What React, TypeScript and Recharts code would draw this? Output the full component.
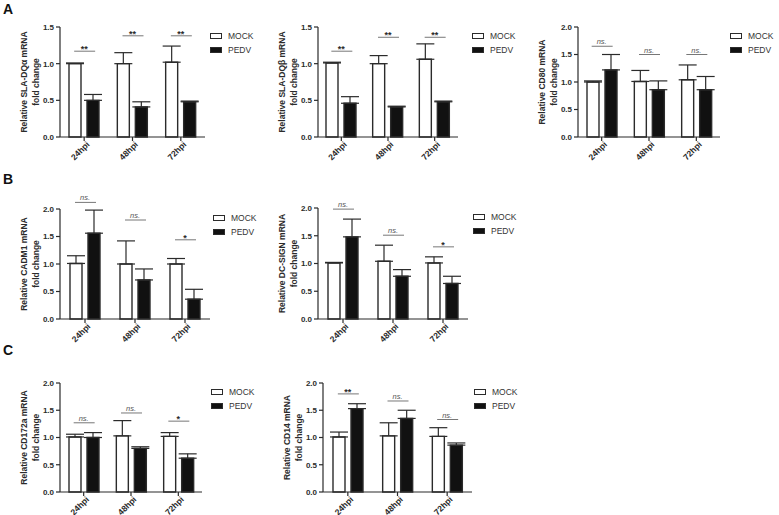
import React from 'react'
import { ComposedChart, Bar, ErrorBar, XAxis, YAxis, Legend, ReferenceDot } from 'recharts'

const times = ['24hpi', '48hpi', '72hpi']
const groups = ['MOCK', 'PEDV']

// A – SLA-DQα
const dqaMock = [1.0, 1.0, 1.02]
const dqaMockSem = [0.01, 0.15, 0.22]
const dqaPedv = [0.5, 0.41, 0.48]
const dqaPedvSem = [0.08, 0.07, 0.01]
const dqaSigAt = [1.17, 1.38, 1.38]
const dqaSig = ['**', '**', '**']

// A – SLA-DQβ
const dqbMock = [1.01, 1.0, 1.06]
const dqbMockSem = [0.01, 0.11, 0.21]
const dqbPedv = [0.46, 0.41, 0.48]
const dqbPedvSem = [0.09, 0.01, 0.01]
const dqbSigAt = [1.17, 1.36, 1.36]
const dqbSig = ['**', '**', '**']

// A – CD80
const cd80Mock = [1.0, 1.01, 1.04]
const cd80MockSem = [0.02, 0.2, 0.27]
const cd80Pedv = [1.22, 0.86, 0.86]
const cd80PedvSem = [0.28, 0.16, 0.24]
const cd80SigAt = [1.65, 1.5, 1.5]
const cd80Sig = ['ns.', 'ns.', 'ns.']

// B – CADM1
const cadm1Mock = [1.01, 1.0, 1.0]
const cadm1MockSem = [0.14, 0.42, 0.1]
const cadm1Pedv = [1.56, 0.71, 0.36]
const cadm1PedvSem = [0.42, 0.2, 0.18]
const cadm1SigAt = [2.12, 1.8, 1.44]
const cadm1Sig = ['ns.', 'ns.', '*']

// B – DC-SIGN
const dcsignMock = [1.01, 1.04, 1.01]
const dcsignMockSem = [0.01, 0.29, 0.11]
const dcsignPedv = [1.48, 0.77, 0.64]
const dcsignPedvSem = [0.32, 0.12, 0.13]
const dcsignSigAt = [1.98, 1.51, 1.3]
const dcsignSig = ['ns.', 'ns.', '*']

// C – CD172a
const cd172aMock = [1.01, 1.03, 1.02]
const cd172aMockSem = [0.05, 0.28, 0.07]
const cd172aPedv = [1.0, 0.8, 0.62]
const cd172aPedvSem = [0.09, 0.03, 0.08]
const cd172aSigAt = [1.27, 1.45, 1.3]
const cd172aSig = ['ns.', 'ns.', '*']

// C – CD14
const cd14Mock = [1.01, 1.03, 1.02]
const cd14MockSem = [0.09, 0.24, 0.16]
const cd14Pedv = [1.53, 1.35, 0.86]
const cd14PedvSem = [0.09, 0.15, 0.04]
const cd14SigAt = [1.8, 1.67, 1.33]
const cd14Sig = ['**', 'ns.', 'ns.']

const ticks15 = [0, 0.5, 1, 1.5]
const ticks20 = [0, 0.5, 1, 1.5, 2]

const INK = '#2b2b2b'
const FONT = '"Liberation Sans", Arial, sans-serif'

const panels = [
  { gene: 'SLA-DQα', mock: dqaMock, mockSem: dqaMockSem, pedv: dqaPedv, pedvSem: dqaPedvSem, sigAt: dqaSigAt, sig: dqaSig, ticks: ticks15, left: 60, right: 205, top: 27, bottom: 137, legX: 210, legY: 29 },
  { gene: 'SLA-DQβ', mock: dqbMock, mockSem: dqbMockSem, pedv: dqbPedv, pedvSem: dqbPedvSem, sigAt: dqbSigAt, sig: dqbSig, ticks: ticks15, left: 318, right: 458, top: 27, bottom: 137, legX: 472, legY: 29 },
  { gene: 'CD80', mock: cd80Mock, mockSem: cd80MockSem, pedv: cd80Pedv, pedvSem: cd80PedvSem, sigAt: cd80SigAt, sig: cd80Sig, ticks: ticks20, left: 578, right: 720, top: 27, bottom: 137, legX: 730, legY: 29 },
  { gene: 'CADM1', mock: cadm1Mock, mockSem: cadm1MockSem, pedv: cadm1Pedv, pedvSem: cadm1PedvSem, sigAt: cadm1SigAt, sig: cadm1Sig, ticks: ticks20, left: 60, right: 210, top: 209, bottom: 319, legX: 213, legY: 211 },
  { gene: 'DC-SIGN', mock: dcsignMock, mockSem: dcsignMockSem, pedv: dcsignPedv, pedvSem: dcsignPedvSem, sigAt: dcsignSigAt, sig: dcsignSig, ticks: ticks20, left: 318, right: 468, top: 208, bottom: 319, legX: 473, legY: 210 },
  { gene: 'CD172a', mock: cd172aMock, mockSem: cd172aMockSem, pedv: cd172aPedv, pedvSem: cd172aPedvSem, sigAt: cd172aSigAt, sig: cd172aSig, ticks: ticks20, left: 60, right: 202, top: 383, bottom: 492, legX: 211, legY: 385 },
  { gene: 'CD14', mock: cd14Mock, mockSem: cd14MockSem, pedv: cd14Pedv, pedvSem: cd14PedvSem, sigAt: cd14SigAt, sig: cd14Sig, ticks: ticks20, left: 323, right: 472, top: 383, bottom: 492, legX: 474, legY: 385 },
]

const LEFT_PAD = 60
const TOP_PAD = 27
const RIGHT_PAD = 90
const AXIS_H = 45

function TimeTick({ x, y, payload }: any) {
  const ax = x + 6
  const ay = y + 2
  return (
    <text
      x={ax}
      y={ay}
      transform={`rotate(-45, ${ax}, ${ay})`}
      textAnchor="end"
      fontSize={8.5}
      fontWeight="bold"
      fill={INK}
      fontFamily={FONT}
    >
      {payload.value}
    </text>
  )
}

function SigMark({ cx, cy, mark }: any) {
  const ns = mark === 'ns.'
  return (
    <g>
      <line x1={cx - 10} x2={cx + 11} y1={cy} y2={cy} stroke="#777" strokeWidth={1} />
      <text
        x={cx}
        y={ns ? cy - 2 : cy + 1}
        textAnchor="middle"
        fontSize={ns ? 7.5 : 9}
        fontStyle={ns ? 'italic' : 'normal'}
        fontWeight={ns ? 'normal' : 'bold'}
        fill={ns ? '#555' : INK}
        fontFamily={FONT}
      >
        {mark}
      </text>
    </g>
  )
}

function LegendBox() {
  return (
    <div style={{ fontFamily: FONT }}>
      {groups.map((g, i) => (
        <div key={g} style={{ display: 'flex', alignItems: 'center', height: 14 }}>
          <span
            style={{
              display: 'inline-block',
              width: 10,
              height: 4,
              border: `1.3px solid ${INK}`,
              background: i === 0 ? '#fff' : '#111',
            }}
          />
          <span style={{ marginLeft: 6, fontSize: 8.5, color: '#333', lineHeight: '14px' }}>{g}</span>
        </div>
      ))}
    </div>
  )
}

function Panel({ p }: any) {
  const plotW = p.right - p.left
  const plotH = p.bottom - p.top
  const W = plotW + LEFT_PAD + RIGHT_PAD
  const H = plotH + TOP_PAD + AXIS_H
  const x0 = p.left - LEFT_PAD
  const y0 = p.top - TOP_PAD
  const rows = times.map((t, i) => ({
    time: t,
    mock: p.mock[i],
    pedv: p.pedv[i],
    mockErr: [0, p.mockSem[i]],
    pedvErr: [0, p.pedvSem[i]],
  }))
  const yMax = p.ticks[p.ticks.length - 1]

  const yLabel = (props: any) => {
    const vb = props.viewBox || { x: 0, y: TOP_PAD, width: LEFT_PAD, height: plotH }
    const cy = vb.y + vb.height / 2
    const bx = vb.x + vb.width
    return (
      <g fontFamily={FONT} fontSize={8.5} fontWeight="bold" fill={INK} textAnchor="middle">
        <text x={bx - 33} y={cy} transform={`rotate(-90, ${bx - 33}, ${cy})`}>
          {`Relative ${p.gene} mRNA`}
        </text>
        <text x={bx - 21} y={cy} transform={`rotate(-90, ${bx - 21}, ${cy})`}>
          fold change
        </text>
      </g>
    )
  }

  return (
    <div style={{ position: 'absolute', left: x0, top: y0 }}>
      <ComposedChart
        width={W}
        height={H}
        data={rows}
        margin={{ top: TOP_PAD, right: RIGHT_PAD, bottom: 0, left: 0 }}
        barSize={12}
        barGap={6}
      >
        <XAxis
          dataKey="time"
          height={AXIS_H}
          interval={0}
          tick={<TimeTick />}
          tickSize={4}
          axisLine={{ stroke: INK, strokeWidth: 1.2 }}
          tickLine={{ stroke: INK, strokeWidth: 1.2 }}
        />
        <YAxis
          width={LEFT_PAD}
          domain={[0, yMax]}
          ticks={p.ticks}
          interval={0}
          tickFormatter={(v: number) => v.toFixed(1)}
          tick={{ fontSize: 8, fontWeight: 'bold', fill: INK, fontFamily: FONT }}
          tickSize={4}
          tickMargin={2}
          axisLine={{ stroke: INK, strokeWidth: 1.2 }}
          tickLine={{ stroke: INK, strokeWidth: 1.2 }}
          label={yLabel}
        />
        <Bar dataKey="mock" name="MOCK" fill="#fff" stroke={INK} strokeWidth={1.4} isAnimationActive={false}>
          <ErrorBar dataKey="mockErr" width={9} stroke={INK} strokeWidth={1.2} />
        </Bar>
        <Bar dataKey="pedv" name="PEDV" fill="#111" stroke={INK} strokeWidth={1.4} isAnimationActive={false}>
          <ErrorBar dataKey="pedvErr" width={9} stroke={INK} strokeWidth={1.2} />
        </Bar>
        {times.map((t, i) => (
          <ReferenceDot
            key={t}
            x={t}
            y={p.sigAt[i]}
            ifOverflow="visible"
            shape={(s: any) => <SigMark cx={s.cx} cy={s.cy} mark={p.sig[i]} />}
          />
        ))}
        <Legend
          layout="horizontal"
          align="center"
          verticalAlign="middle"
          content={<LegendBox />}
          wrapperStyle={{ left: p.legX - x0, top: p.legY - y0, width: 70, height: 30 }}
        />
      </ComposedChart>
    </div>
  )
}

const letterStyle: React.CSSProperties = {
  position: 'absolute',
  left: 3,
  fontFamily: FONT,
  fontWeight: 'bold',
  fontSize: 14,
  color: '#111',
  lineHeight: '14px',
}

export default function App() {
  return (
    <div style={{ position: 'absolute', left: 0, top: 0, width: 779, height: 515, background: '#fff', overflow: 'hidden' }}>
      {panels.map((p) => (
        <Panel key={p.gene} p={p} />
      ))}
      <div style={{ ...letterStyle, top: 2 }}>A</div>
      <div style={{ ...letterStyle, top: 172 }}>B</div>
      <div style={{ ...letterStyle, top: 343 }}>C</div>
    </div>
  )
}
